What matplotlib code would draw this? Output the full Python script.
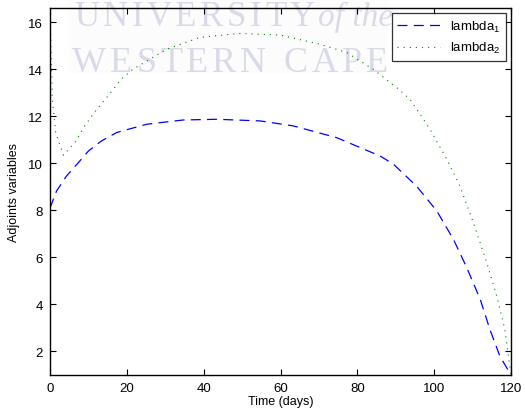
import matplotlib
matplotlib.use("Agg")
import matplotlib.pyplot as plt
from matplotlib.patches import Rectangle

plt.rcParams['font.family'] = ['Liberation Sans', 'DejaVu Sans']
plt.rcParams['mathtext.fontset'] = 'custom'
plt.rcParams['mathtext.rm'] = 'Liberation Sans'
plt.rcParams['mathtext.it'] = 'Liberation Sans'

# Data
t1 = [0, 1.7, 4.3, 7.4, 10, 13.4, 17.4, 25.2, 34.7, 43.4, 54.7, 63.3, 74.6,
      85.9, 89.4, 95.4, 100.7, 105, 108.5, 112, 114.5, 117.1, 120]
lambda1 = [8.1, 8.82, 9.46, 10.03, 10.52, 10.95, 11.31, 11.66, 11.84, 11.87, 11.8,
           11.59, 11.09, 10.31, 9.96, 9.03, 7.97, 6.77, 5.56, 4.21, 2.94, 1.8, 1.0]

t2 = [0, 0.6, 1.5, 3.5, 6.5, 9.1, 11.7, 14.3, 18.7, 21.6, 30.4, 39, 49.5, 59.9,
      70.3, 77.2, 84.1, 90.2, 93.7, 98.9, 103.3, 106.7, 110.2, 113.7, 116.3,
      118.4, 120]
lambda2 = [16.55, 12.7, 11.3, 10.34, 10.9, 11.6, 12.2, 12.7, 13.6, 14.0, 14.85,
           15.35, 15.52, 15.45, 15.06, 14.71, 14.0, 13.22, 12.72, 11.45, 10.17,
           9.03, 7.48, 5.77, 4.35, 2.94, 1.0]

xticks = [0, 20, 40, 60, 80, 100, 120]
yticks = [2, 4, 6, 8, 10, 12, 14, 16]
series_labels = ['lambda$_1$', 'lambda$_2$']

W, H = 525, 414
fig = plt.figure(figsize=(W / 100, H / 100), dpi=100)
ax = fig.add_axes([50 / W, 1 - 376 / H, (511 - 50) / W, (376 - 9) / H])
ax.patch.set_alpha(0)

# Watermark (drawn in figure coords, behind the axes content)
wm_color = '#d9dae7'
fig.patches.append(Rectangle((68 / W, 1 - 74 / H), (388 - 68) / W, 74 / H,
                             transform=fig.transFigure, facecolor='#fcfcfd',
                             edgecolor='none', zorder=-3))
renderer = fig.canvas.get_renderer()

def spaced_text(s, x0, x1, ybase, size, style='normal'):
    objs = []
    widths = []
    for ch in s:
        tt = fig.text(0, 0, ch, fontsize=size, family='Liberation Serif',
                      color=wm_color, style=style, zorder=-2)
        if ch == ' ':
            widths.append(size * 0.35)
        else:
            widths.append(tt.get_window_extent(renderer).width)
        objs.append(tt)
    total = sum(widths)
    gap = (x1 - x0 - total) / max(len(s) - 1, 1)
    x = x0
    for tt, w in zip(objs, widths):
        tt.set_position((x / W, 1 - ybase / H))
        tt.set_va('baseline')
        x += w + gap

spaced_text('UNIVERSITY', 74, 315, 26, 25)
fig.text(318 / W, 1 - 26 / H, 'of the', fontsize=24, family='Liberation Serif',
         style='italic', color=wm_color, va='baseline', zorder=-2)
spaced_text('WESTERN CAPE', 72, 388, 72, 26)

ax.plot(t1, lambda1, color='#0000ff', linestyle=(0, (8, 5)), linewidth=0.9,
        label=series_labels[0])
ax.plot(t2, lambda2, color='#008000', linestyle=(0, (1, 4.5)), linewidth=0.8,
        label=series_labels[1])

ax.set_xlim(0, 120)
ax.set_ylim(1, 16.6)
ax.set_xticks(xticks)
ax.set_yticks(yticks)
ax.tick_params(direction='in', length=4, width=0.8, top=True, right=True,
               labelsize=9.5, colors='black', pad=5)
for sp in ax.spines.values():
    sp.set_linewidth(1.0)

ax.set_xlabel('Time (days)', fontsize=9, labelpad=1)
ax.set_ylabel('Adjoints variables', fontsize=9, labelpad=6)

leg = ax.legend(loc='upper right', fontsize=9.5, frameon=True, fancybox=False,
                edgecolor='black', borderpad=0.4, handlelength=3.2,
                labelspacing=0.5, borderaxespad=0.4)
leg.get_frame().set_linewidth(0.9)

fig.savefig('out.png', dpi=100)
